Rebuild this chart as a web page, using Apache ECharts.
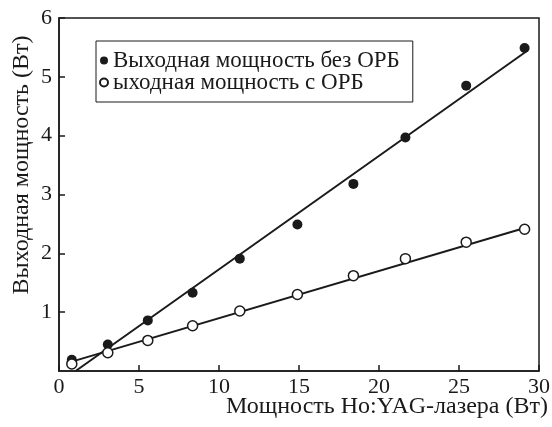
<!DOCTYPE html>
<html>
<head>
<meta charset="utf-8">
<script src="https://cdn.jsdelivr.net/npm/echarts@6/dist/echarts.min.js"></script>
<style>
  html, body { margin: 0; padding: 0; background: #fff; }
  #chart { width: 552px; height: 427px; }
</style>
</head>
<body>
<div id="chart"></div>
<script>
// Pump power of the Ho:YAG laser (W)
const pumpPower = [0.8, 3.05, 5.55, 8.35, 11.3, 14.9, 18.4, 21.65, 25.45, 29.1];
// Output power without ОРБ (W)
const outputNoOrb = [0.19, 0.45, 0.86, 1.33, 1.91, 2.49, 3.18, 3.97, 4.85, 5.49];
// Output power with ОРБ (W)
const outputOrb = [0.12, 0.31, 0.52, 0.77, 1.02, 1.30, 1.62, 1.91, 2.19, 2.41];
// Linear fits: [x, y] end points
const fitNoOrb = [[1.04, 0], [29.2, 5.43]];
const fitOrb = [[0.8, 0.16], [29.1, 2.43]];

const xTicks = { min: 0, max: 30, step: 5 };
const yTicks = { min: 0, max: 6, step: 1 };

const seriesNames = ['Выходная мощность без ОРБ', 'ыходная мощность с ОРБ'];
const xTitle = 'Мощность Ho:YAG-лазера (Вт)';
const yTitle = 'Выходная мощность (Вт)';

const ink = '#1a1a1a';
const font = 'Liberation Serif';

const chart = echarts.init(document.getElementById('chart'), null, { renderer: 'canvas' });

chart.setOption({
  backgroundColor: '#fff',
  animation: false,
  textStyle: { fontFamily: font, color: ink },
  grid: {
    left: 59, right: 13, top: 18, bottom: 56,
    containLabel: false,
    outerBoundsMode: 'none',
    show: true, borderColor: ink, borderWidth: 1.5, backgroundColor: 'transparent'
  },
  legend: {
    orient: 'vertical',
    left: 96, top: 41,
    data: seriesNames,
    backgroundColor: '#fff',
    borderColor: ink, borderWidth: 1,
    padding: [8, 13, 8, 3],
    itemGap: -1,
    itemWidth: 8, itemHeight: 8,
    icon: 'circle',
    textStyle: { fontFamily: font, fontSize: 23, color: ink, padding: [0, 0, 0, 0] }
  },
  xAxis: {
    type: 'value',
    min: xTicks.min, max: xTicks.max, interval: xTicks.step,
    name: xTitle,
    nameLocation: 'end',
    nameGap: 9,
    nameMoveOverlap: false,
    nameTextStyle: { fontFamily: font, fontSize: 24, color: ink, align: 'right', verticalAlign: 'top', padding: [24, 0, 0, 0] },
    axisLine: { show: true, lineStyle: { color: ink, width: 1.5 } },
    axisTick: { show: true, inside: true, length: 6, lineStyle: { color: ink, width: 1.5 } },
    axisLabel: { fontFamily: font, fontSize: 22, color: ink, margin: 5 },
    splitLine: { show: false }
  },
  yAxis: {
    type: 'value',
    min: yTicks.min, max: yTicks.max, interval: yTicks.step,
    name: yTitle,
    nameLocation: 'middle',
    nameGap: 25,
    nameMoveOverlap: false,
    nameTextStyle: { fontFamily: font, fontSize: 24, color: ink, padding: [0, 0, 0, 59] },
    axisLine: { show: true, lineStyle: { color: ink, width: 1.5 } },
    axisTick: { show: true, inside: true, length: 6, lineStyle: { color: ink, width: 1.5 } },
    axisLabel: { fontFamily: font, fontSize: 22, color: ink, margin: 7, showMinLabel: false },
    splitLine: { show: false }
  },
  series: [
    {
      type: 'line',
      data: fitNoOrb,
      symbol: 'none',
      lineStyle: { color: ink, width: 2 },
      z: 2, silent: true
    },
    {
      type: 'line',
      data: fitOrb,
      symbol: 'none',
      lineStyle: { color: ink, width: 2 },
      z: 2, silent: true
    },
    {
      name: seriesNames[0],
      type: 'scatter',
      data: pumpPower.map((x, i) => [x, outputNoOrb[i]]),
      symbol: 'circle',
      symbolSize: 10,
      itemStyle: { color: ink, opacity: 1 },
      z: 5
    },
    {
      name: seriesNames[1],
      type: 'scatter',
      data: pumpPower.map((x, i) => [x, outputOrb[i]]),
      symbol: 'circle',
      symbolSize: 10,
      itemStyle: { color: '#fff', borderColor: ink, borderWidth: 1.5, opacity: 1 },
      z: 6
    }
  ]
});
</script>
</body>
</html>
